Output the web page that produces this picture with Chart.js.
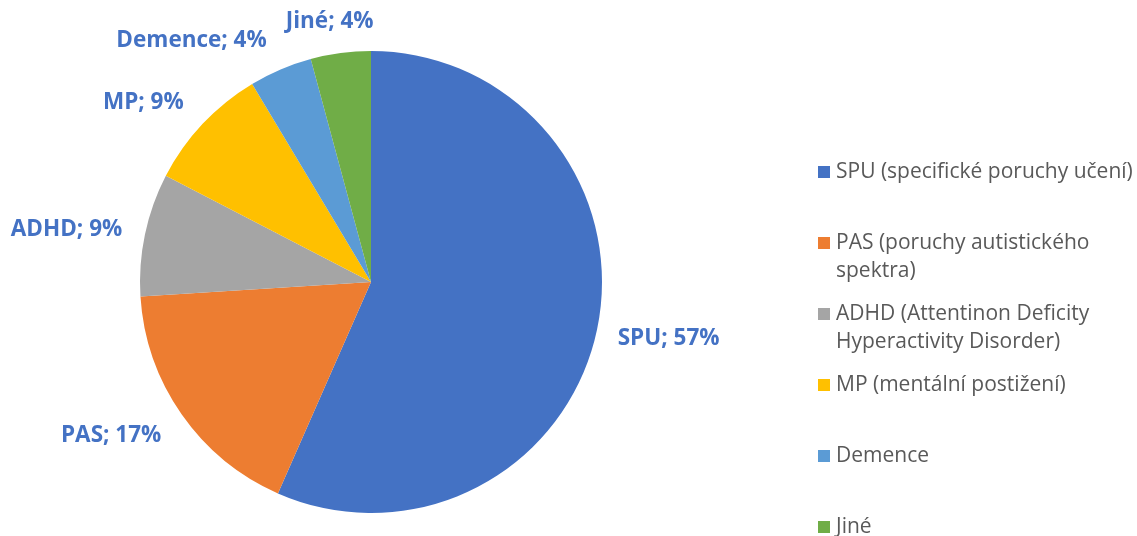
<!DOCTYPE html>
<html>
<head>
<meta charset="utf-8">
<script src="https://cdn.jsdelivr.net/npm/chart.js@4.4.1/dist/chart.umd.min.js"></script>
<style>
  html, body { margin: 0; padding: 0; background: #fff; }
  #wrap { width: 1137px; height: 536px; position: relative; }
</style>
</head>
<body>
<div id="wrap"><canvas id="chart"></canvas></div>
<script>
// Chart data
const shortNames = ['SPU', 'PAS', 'ADHD', 'MP', 'Demence', 'Jiné'];
const legendLines = [
    ['SPU (specifické poruchy učení)'],
    ['PAS (poruchy autistického', 'spektra)'],
    ['ADHD (Attentinon Deficity', 'Hyperactivity Disorder)'],
    ['MP (mentální postižení)'],
    ['Demence'],
    ['Jiné']
];
const shares = [56.6, 17.4, 8.6, 8.8, 4.4, 4.2];
const colors = ['#4472C4', '#ED7D31', '#A5A5A5', '#FFC000', '#5B9BD5', '#70AD47'];

// Outside labels like "SPU; 57%"
const outsideLabels = {
    id: 'outsideLabels',
    afterDatasetsDraw(chart) {
        const ctx = chart.ctx;
        const meta = chart.getDatasetMeta(0);
        ctx.save();
        ctx.font = 'bold 22.5px "Open Sans"';
        ctx.fillStyle = '#4472C4';
        ctx.textBaseline = 'middle';
        meta.data.forEach((arc, i) => {
            const mid = (arc.startAngle + arc.endAngle) / 2;
            const dx = Math.cos(mid), dy = Math.sin(mid);
            const r = arc.outerRadius + 15;
            const ax = arc.x + dx * r;
            const ay = arc.y + dy * r + dy * 19 + 2;
            let x = ax;
            if (dx > 0.3) { ctx.textAlign = 'left'; x = ax + 6; }
            else if (dx < -0.3) { ctx.textAlign = 'right'; x = ax - 8; }
            else { ctx.textAlign = 'center'; x = ax - 9; }
            ctx.fillText(shortNames[i] + '; ' + Math.round(shares[i]) + '%', x, ay);
        });
        ctx.restore();
    }
};

// Legend on the right, with wrapped lines
const sideLegend = {
    id: 'sideLegend',
    afterDraw(chart) {
        const ctx = chart.ctx;
        ctx.save();
        ctx.font = '21px "Open Sans"';
        ctx.textAlign = 'left';
        ctx.textBaseline = 'middle';
        const top = 172, step = 71, lineH = 28;
        legendLines.forEach((lines, i) => {
            const y = top + i * step;
            ctx.fillStyle = colors[i];
            ctx.fillRect(818, y - 6, 12, 12);
            ctx.fillStyle = '#595959';
            lines.forEach((t, j) => ctx.fillText(t, 836, y + j * lineH));
        });
        ctx.restore();
    }
};

const chart = new Chart(document.getElementById('chart'), {
    type: 'pie',
    data: {
        labels: shortNames,
        datasets: [{
            data: shares,
            backgroundColor: colors,
            borderWidth: 0
        }]
    },
    options: {
        responsive: true,
        maintainAspectRatio: false,
        animation: false,
        layout: { padding: { left: 140, right: 535, top: 51, bottom: 23 } },
        plugins: {
            legend: { display: false },
            tooltip: { enabled: false }
        }
    },
    plugins: [outsideLabels, sideLegend]
});
</script>
</body>
</html>
